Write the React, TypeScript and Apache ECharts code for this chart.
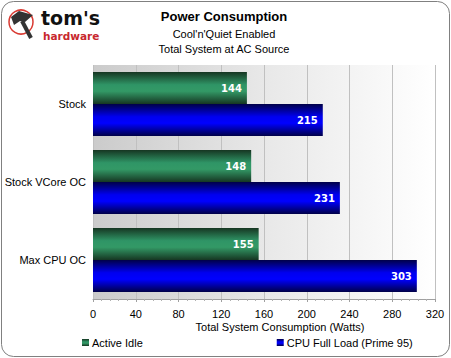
import React, { useEffect, useRef } from "react";
import * as echarts from "echarts";

const categories = ["Stock", "Stock VCore OC", "Max CPU OC"];
const activeIdle = [144, 148, 155];
const fullLoad = [215, 231, 303];
const seriesNames = ["Active Idle", "CPU Full Load (Prime 95)"];
const xTicks = { min: 0, max: 320, interval: 40 };

const FONT = "'Liberation Sans', Arial, sans-serif";

export default function App() {
  const ref = useRef<HTMLDivElement>(null);
  useEffect(() => {
    if (!ref.current) return;
    const chart = echarts.init(ref.current, null, { renderer: "svg" });
    const green = new echarts.graphic.LinearGradient(0, 0, 0, 1, [
      { offset: 0, color: "#163622" },
      { offset: 0.4, color: "#2f9566" },
      { offset: 0.6, color: "#339966" },
      { offset: 1, color: "#163622" },
    ]);
    const blue = new echarts.graphic.LinearGradient(0, 0, 0, 1, [
      { offset: 0, color: "#000048" },
      { offset: 0.4, color: "#0000f0" },
      { offset: 0.6, color: "#0000ff" },
      { offset: 1, color: "#000048" },
    ]);
    const labelCfg = {
      show: true,
      position: "insideRight" as const,
      distance: 5,
      color: "#ffffff",
      fontFamily: "'DejaVu Sans', Verdana, sans-serif",
      fontWeight: "bold" as const,
      fontSize: 10,
    };
    chart.setOption({
      animation: false,
      backgroundColor: "#ffffff",
      grid: {
        left: 93,
        right: 16,
        top: 65,
        bottom: 59,
        show: true,
        borderWidth: 0,
        backgroundColor: new echarts.graphic.LinearGradient(0, 0, 1, 0, [
          { offset: 0, color: "#cbcbcb" },
          { offset: 0.5, color: "#e8e8e8" },
          { offset: 1, color: "#ffffff" },
        ]),
      },
      legend: {
        left: 77,
        top: 332,
        icon: "rect",
        itemWidth: 7,
        itemHeight: 7,
        itemGap: 134,
        textStyle: { fontFamily: FONT, fontSize: 11, color: "#000", padding: [0, 0, 0, -2] },
        data: seriesNames,
      },
      xAxis: {
        type: "value",
        min: xTicks.min,
        max: xTicks.max,
        interval: xTicks.interval,
        axisLine: { show: true, lineStyle: { color: "#a0a0a0" } },
        axisTick: { show: true, length: 3, lineStyle: { color: "#a0a0a0" } },
        minorTick: { show: true, splitNumber: 5, length: 2, lineStyle: { color: "#b0b0b0" } },
        splitLine: { show: true, lineStyle: { color: "#c0c0c0", width: 1 } },
        axisLabel: { fontFamily: FONT, fontSize: 11, color: "#000", margin: 9 },
      },
      yAxis: {
        type: "category",
        inverse: true,
        data: categories,
        axisLine: { show: false },
        axisTick: { show: false },
        axisLabel: { fontFamily: FONT, fontSize: 11, color: "#000", margin: 7 },
      },
      series: [
        {
          name: seriesNames[0],
          type: "bar",
          data: activeIdle,
          barWidth: 32,
          barGap: "0%",
          itemStyle: { color: green },
          label: labelCfg,
        },
        {
          name: seriesNames[1],
          type: "bar",
          data: fullLoad,
          barWidth: 32,
          barGap: "0%",
          itemStyle: { color: blue },
          label: labelCfg,
        },
      ],
      graphic: [
        {
          type: "rect",
          shape: { x: 1.5, y: 1.5, width: 448, height: 355, r: 12 },
          style: { fill: "none", stroke: "#808080", lineWidth: 1 },
          z: 10,
        },
        {
          type: "text",
          x: 224,
          y: 16,
          style: {
            text: "Power Consumption",
            font: "bold 13px 'Liberation Sans', Arial, sans-serif",
            fill: "#000",
            align: "center",
            verticalAlign: "middle",
          },
        },
        {
          type: "text",
          x: 224,
          y: 34,
          style: {
            text: "Cool'n'Quiet Enabled",
            font: "11px 'Liberation Sans', Arial, sans-serif",
            fill: "#000",
            align: "center",
            verticalAlign: "middle",
          },
        },
        {
          type: "text",
          x: 224,
          y: 49,
          style: {
            text: "Total System at AC Source",
            font: "11px 'Liberation Sans', Arial, sans-serif",
            fill: "#000",
            align: "center",
            verticalAlign: "middle",
          },
        },
        {
          type: "text",
          x: 280,
          y: 327,
          style: {
            text: "Total System Consumption (Watts)",
            font: "11px 'Liberation Sans', Arial, sans-serif",
            fill: "#000",
            align: "center",
            verticalAlign: "middle",
          },
        },
        // logo
        {
          type: "circle",
          shape: { cx: 21, cy: 22, r: 12 },
          style: { fill: "none", stroke: "#d93a32", lineWidth: 1.5 },
        },
        {
          type: "polygon",
          shape: { points: [[11, 17], [19, 11], [33, 15], [25, 22], [20, 21], [14, 25]] },
          style: { fill: "#333" },
        },
        {
          type: "line",
          shape: { x1: 22, y1: 21, x2: 31, y2: 38 },
          style: { stroke: "#333", lineWidth: 4 },
        },
        {
          type: "text",
          x: 41,
          y: 18,
          style: {
            text: "tom's",
            font: "bold 19px 'DejaVu Sans', Arial, sans-serif",
            fill: "#111",
            align: "left",
            verticalAlign: "middle",
          },
        },
        {
          type: "text",
          x: 43,
          y: 36,
          style: {
            text: "hardware",
            font: "bold 10.5px 'DejaVu Sans', Arial, sans-serif",
            fill: "#c8282d",
            align: "left",
            verticalAlign: "middle",
          },
        },
      ],
    });
    return () => chart.dispose();
  }, []);
  return (
    <div
      ref={ref}
      style={{ position: "fixed", left: 0, top: 0, width: 451, height: 358 }}
    />
  );
}
